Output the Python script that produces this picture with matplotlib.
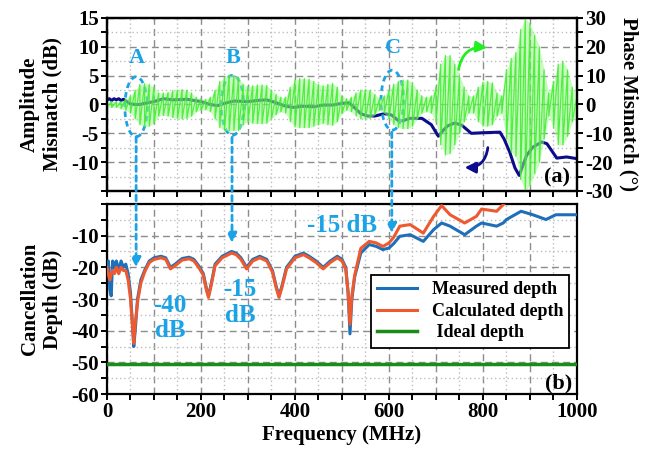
import numpy as np
import matplotlib.pyplot as plt
from matplotlib.patches import Ellipse, ConnectionPatch
from matplotlib.ticker import MultipleLocator

plt.rcParams['font.family'] = 'serif'
plt.rcParams['font.serif'] = ['Liberation Serif', 'DejaVu Serif']
plt.rcParams['font.weight'] = 'bold'
plt.rcParams['axes.labelweight'] = 'bold'
plt.rcParams['axes.unicode_minus'] = False

# (a) phase mismatch envelope (deg), read every 10 MHz
phase_freq = np.arange(0, 1001, 10)
phase_upper = [1, 1, 1, 1, 2, 3, 5, 7, 7.2, 7, 6, 4, 4, 4.2, 4.8, 5, 5.2, 5, 4, 2.5,
               2, 1.8, 2.5, 5, 8, 9.5, 10.2, 10, 9.5, 7, 6.2, 6.5, 6.8, 6.8, 6.6, 5, 3.5, 2.5, 2.5, 6,
               8.5, 9, 9, 8.8, 8, 7, 6.5, 7, 7.3, 6, 3, 2, 2.5, 4, 5, 5.2, 5, 3.5, 2, 3,
               5, 7, 8, 8.5, 8.5, 7.5, 5, 3, 2.5, 3, 6, 14, 17, 17, 14, 10, 6, 3, 3, 6,
               7.8, 8, 7.5, 4, 3, 12, 16, 18, 26, 30, 28, 24, 20, 12, 4, 8, 14, 15, 12, 6, 3]
phase_lower = [-1, -1, -1, -1.5, -2, -3, -5, -7, -7.6, -7.5, -6.5, -4, -3.8, -4, -4.5, -4.8, -5, -4.8, -4, -2.5,
               -2, -1.8, -2.5, -5, -8, -9, -9.2, -9, -9, -7, -6, -6.5, -6.6, -6.6, -6.5, -5, -3.5, -2.5, -3, -6,
               -7.8, -8, -8, -8, -7.5, -7, -6.5, -7, -7.2, -6, -3, -2, -2.5, -4, -5, -5, -4.8, -3.5, -2, -3,
               -5, -7, -8, -8.4, -8.4, -7.5, -5, -3, -2.5, -3, -6, -14, -17.5, -17, -14, -10, -6, -3, -3, -6,
               -7.5, -7.5, -7, -4, -3, -12, -16.5, -18, -26, -30, -28, -24, -20, -12, -4, -8, -14, -14, -11, -6, -3]

# (a) amplitude mismatch (dB)
amp_freq = [0, 5, 10, 15, 20, 25, 30, 35, 40, 50, 60, 70, 80, 100, 120, 140, 170, 200, 220, 235,
            250, 270, 300, 320, 340, 360, 380, 395, 420, 440, 460, 480, 500, 515, 530, 540, 555, 570, 590, 605,
            620, 630, 645, 670, 690, 705, 715, 725, 740, 755, 775, 800, 836, 845, 857, 868, 877, 893, 906, 925,
            936, 957, 978, 1000]
amp_val = [0.8, 1.0, 0.7, 1.0, 0.8, 1.0, 0.7, 0.9, 0.6, 0.1, 0.0, 0.0, 0.2, 0.5, 1.0, 0.8, 0.9, 0.5, 0.0, -0.2,
           0.2, 0.6, 0.5, 0.7, 0.8, 0.3, -0.3, -0.5, -0.3, -0.4, -0.1, -0.1, 0.2, 0.3, -0.8, -1.6, -2.0, -2.0, -1.6, -1.8,
           -2.8, -2.8, -2.4, -2.4, -3.5, -5.5, -4.5, -3.7, -3.2, -3.6, -5.0, -4.9, -4.8, -6.0, -8.3, -11.0, -12.3, -8.8, -7.4, -6.5,
           -6.8, -9.3, -9.1, -9.4]

# (b) cancellation depth (dB)
meas_freq = [0, 3, 6, 9, 12, 16, 20, 25, 30, 35, 40, 45, 50, 55, 57, 60, 65, 72, 80, 90,
             100, 115, 125, 135, 145, 160, 175, 185, 195, 205, 212, 216, 222, 230, 245, 265, 275, 285, 297, 310,
             325, 340, 352, 360, 366, 372, 382, 400, 418, 430, 445, 460, 475, 490, 500, 508, 513, 517, 521, 527,
             540, 558, 573, 587, 600, 610, 623, 645, 673, 695, 712, 730, 761, 786, 797, 829, 843, 850, 881, 906,
             934, 955, 998]
measured = [-19, -18, -27, -29, -18, -20, -18, -21, -18, -20, -19, -22, -28, -40, -45, -40, -30, -24, -21, -18,
            -17, -16.5, -17, -20, -19, -17.2, -16.8, -17.5, -19.5, -22, -27, -29, -25, -19, -16.5, -15, -15.5, -17, -20, -17.5,
            -16.5, -17.5, -21, -26, -29, -26, -20, -16.5, -15.5, -16.5, -18, -20, -18, -16.5, -17.5, -20, -28, -41, -30, -23,
            -15.5, -12.8, -13.4, -14.4, -13.9, -12.5, -10.2, -9.7, -11.8, -8.1, -6.0, -7.0, -9.7, -7.0, -6.0, -7.0, -6.0, -4.9, -2.3, -3.4,
            -4.9, -3.4, -3.4]
calc_freq = meas_freq[:78]
calculated = [-20, -22, -24, -22, -21, -22, -20, -22, -20, -21, -21, -24, -30, -40, -44, -38, -31, -25, -21.5, -18.5,
              -17.5, -17, -17.5, -20.5, -19.5, -17.7, -17.3, -18, -20, -22.5, -27.5, -29.5, -25.5, -19.5, -17, -15.5, -16, -17.5, -20.5, -18,
              -17, -18, -21.5, -26.5, -29.5, -26.5, -20.5, -17, -16, -17, -18.5, -20.5, -18.5, -17, -18, -20.5, -28, -38, -29, -22.5,
              -14, -11.8, -12.3, -13.4, -12.3, -10.5, -7.0, -6.5, -9.2, -3.9, -0.5, -3.4, -6.0, -3.9, -1.6, -2.3, -0.2, 1.0]
ideal_freq = [0, 1000]
ideal = [-50.6, -50.6]

ann_blue = '#1ba3e6'
grid_major = dict(color='#8c8c8c', linestyle=(0, (5, 3)), linewidth=1.0)
grid_minor = dict(color='#bdbdbd', linestyle=(0, (1, 2)), linewidth=1.0)

fig = plt.figure(figsize=(6.62, 4.53), dpi=100)
ax1 = fig.add_axes([0.1616, 0.5784, 0.710, 0.3819])
ax2 = fig.add_axes([0.1616, 0.1302, 0.710, 0.4195])
ax1r = ax1.twinx()

for ax in (ax1, ax2, ax1r):
    for s in ax.spines.values():
        s.set_linewidth(1.6)
    ax.tick_params(which='both', direction='out', length=4, width=1.4, labelsize=15, pad=2)

# ---- panel (a)
ax1.plot(amp_freq, amp_val, color='#0c0c8c', lw=2.2, zorder=2)
# phase trace: band between the read peaks, zigzag through them
zig_x = np.repeat(phase_freq, 2)
zig_y = np.ravel(np.column_stack([phase_upper, phase_lower]))
ax1r.fill_between(phase_freq, phase_lower, phase_upper, color='#9cf78c', lw=0, alpha=0.55)
ax1r.plot(zig_x, zig_y, color='#3ced2c', lw=0.9, alpha=0.85)
ax1.set_xlim(0, 1000)
ax1.set_ylim(-15, 15)
ax1r.set_ylim(-30, 30)
ax1.set_yticks([-10, -5, 0, 5, 10, 15])
ax1.yaxis.set_minor_locator(MultipleLocator(2.5))
ax1r.set_yticks(np.arange(-30, 31, 10))
ax1r.yaxis.set_minor_locator(MultipleLocator(5))
ax1.xaxis.set_major_locator(MultipleLocator(100))
ax1.xaxis.set_minor_locator(MultipleLocator(50))
ax1.tick_params(axis='x', labelbottom=False)
ax1.grid(which='major', **grid_major)
ax1.grid(which='minor', **grid_minor)
ax1.set_ylabel('Amplitude\nMismatch (dB)', fontsize=15, labelpad=6)
ax1r.set_ylabel('Phase Mismatch (°)', fontsize=15, rotation=270, labelpad=18)
ax1.text(0.985, 0.08, '(a)', transform=ax1.transAxes, ha='right', va='center', fontsize=16)

# A, B, C marks
for lab, cx, cy, tx, ty in [('A', 62, -0.4, 64, 8.1), ('B', 267, -0.15, 268, 8.1), ('C', 607, 0.75, 609, 9.8)]:
    ax1.add_patch(Ellipse((cx, cy), 48, 10.4, fill=False, ec=ann_blue, lw=2, ls=(0, (2, 1.5)), zorder=5))
    ax1.text(tx, ty, lab, color=ann_blue, fontsize=16, ha='center', va='center', zorder=6)

ax1r.annotate('', xy=(815, 19.6), xytext=(747, 11.2),
              arrowprops=dict(arrowstyle='-|>', color='#22ee22', lw=2, mutation_scale=16,
                              connectionstyle='arc3,rad=-0.5'))
ax1.annotate('', xy=(755, -10.9), xytext=(811, -7.0),
             arrowprops=dict(arrowstyle='-|>', color='#0c0c8c', lw=2, mutation_scale=16,
                             connectionstyle='arc3,rad=-0.5'))

# ---- panel (b)
ax2.plot(ideal_freq, ideal, color='#1a8c1a', lw=2.5, label=' Ideal depth', zorder=3)
ax2.plot(meas_freq, measured, color='#1f6fb8', lw=2.2, label='Measured depth', zorder=4)
ax2.plot(calc_freq, calculated, color='#ee5a30', lw=2.2, label='Calculated depth', zorder=5)
ax2.set_xlim(0, 1000)
ax2.set_ylim(-60, 0)
ax2.set_yticks(np.arange(-60, -9, 10))
ax2.yaxis.set_minor_locator(MultipleLocator(5))
ax2.xaxis.set_minor_locator(MultipleLocator(50))
ax2.set_xticks(np.arange(0, 1001, 100))
ax2.set_xticklabels(['0', '', '200', '', '400', '', '600', '', '800', '', '1000'])
ax2.grid(which='major', **grid_major)
ax2.grid(which='minor', **grid_minor)
ax2.set_ylabel('Cancellation\nDepth (dB)', fontsize=15, labelpad=6)
ax2.set_xlabel('Frequency (MHz)', fontsize=15, labelpad=2)
ax2.text(0.99, 0.058, '(b)', transform=ax2.transAxes, ha='right', va='center', fontsize=16)

h, l = ax2.get_legend_handles_labels()
leg = ax2.legend([h[1], h[2], h[0]], [l[1], l[2], l[0]], loc='upper left', bbox_to_anchor=(0.562, 0.626),
                 fontsize=13, frameon=True, fancybox=False, edgecolor='black', framealpha=1,
                 handlelength=2.2, borderpad=0.35, labelspacing=0.25, borderaxespad=0)
leg.get_frame().set_linewidth(1.3)

ax2.text(134, -36, '-40\ndB', color=ann_blue, fontsize=18, ha='center', va='center', linespacing=1.15)
ax2.text(283, -31.2, '-15\ndB', color=ann_blue, fontsize=18, ha='center', va='center', linespacing=1.15)
ax2.text(500, -6.8, '-15 dB', color=ann_blue, fontsize=18, ha='center', va='center')

# dashed arrows from the ellipses down to panel (b)
for x, y0, y1 in [(62, -5.6, -20), (266, -5.7, -12.3), (606, -4.8, -9.2)]:
    con = ConnectionPatch(xyA=(x, y0), coordsA=ax1.transData, xyB=(x, y1), coordsB=ax2.transData,
                          arrowstyle='-|>', color=ann_blue, lw=2, ls=(0, (2, 1.5)), mutation_scale=14,
                          fc=ann_blue, zorder=10)
    fig.add_artist(con)

fig.savefig('out.png', dpi=100)
